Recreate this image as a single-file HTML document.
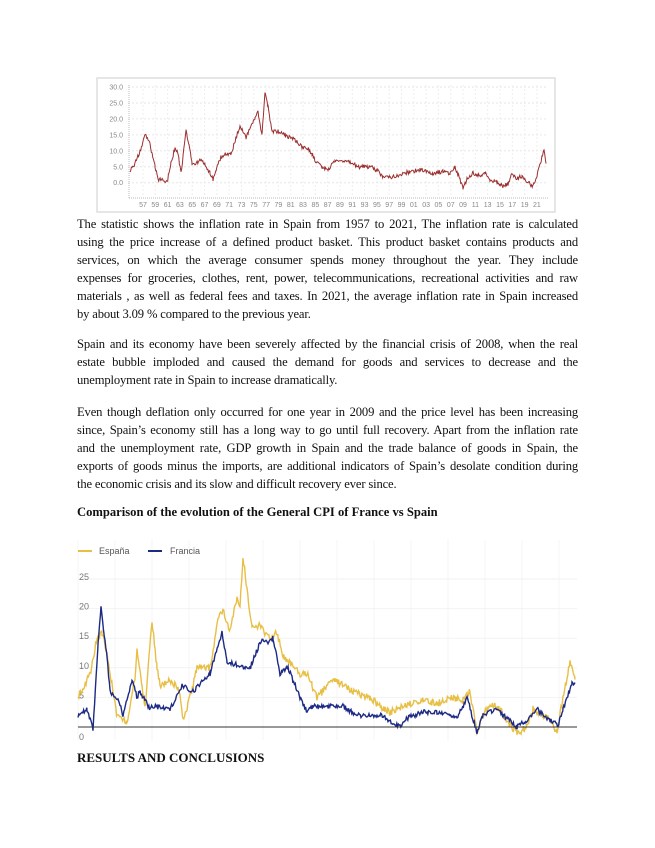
<!DOCTYPE html>
<html><head><meta charset="utf-8"><style>
body{margin:0;background:#fff;width:655px;height:848px;position:relative;overflow:hidden;font-family:"Liberation Serif",serif;}
.l{position:absolute;left:77px;width:501px;font-size:12.6px;line-height:16px;color:#111;text-align:justify;text-align-last:justify;white-space:nowrap;letter-spacing:-0.15px}
.n{text-align-last:left}
.b{position:absolute;left:77px;font-weight:bold;font-size:12.6px;color:#111}
svg{position:absolute;left:0;top:0}
</style></head><body>
<svg width="655" height="848" id="s">
<rect x="97" y="78" width="458" height="134" fill="#fff" stroke="#ddd" stroke-width="1.5"/>
<g id="g1" font-family="Liberation Sans,sans-serif" font-size="7" fill="#888"></g>
<g id="g2" font-family="Liberation Sans,sans-serif" font-size="9" fill="#555"></g>
</svg>
<div class="l" style="top:216px">The statistic shows the inflation rate in Spain from 1957 to 2021, The inflation rate is calculated</div>
<div class="l" style="top:234px">using the price increase of a defined product basket. This product basket contains products and</div>
<div class="l" style="top:252px">services, on which the average consumer spends money throughout the year. They include</div>
<div class="l" style="top:270px">expenses for groceries, clothes, rent, power, telecommunications, recreational activities and raw</div>
<div class="l" style="top:288px">materials , as well as federal fees and taxes. In 2021, the average inflation rate in Spain increased</div>
<div class="l n" style="top:306px">by about 3.09 % compared to the previous year.</div>
<div class="l" style="top:336px">Spain and its economy have been severely affected by the financial crisis of 2008, when the real</div>
<div class="l" style="top:354px">estate bubble imploded and caused the demand for goods and services to decrease and the</div>
<div class="l n" style="top:372px">unemployment rate in Spain to increase dramatically.</div>
<div class="l" style="top:404px">Even though deflation only occurred for one year in 2009 and the price level has been increasing</div>
<div class="l" style="top:422px">since, Spain’s economy still has a long way to go until full recovery. Apart from the inflation rate</div>
<div class="l" style="top:440px">and the unemployment rate, GDP growth in Spain and the trade balance of goods in Spain, the</div>
<div class="l" style="top:458px">exports of goods minus the imports, are additional indicators of Spain’s desolate condition during</div>
<div class="l n" style="top:476px">the economic crisis and its slow and difficult recovery ever since.</div>
<div class="b" style="top:505px">Comparison of the evolution of the General CPI of France vs Spain</div>
<div class="b" style="top:750px;font-size:13px">RESULTS AND CONCLUSIONS</div>
<script>
var NS="http://www.w3.org/2000/svg";
function el(p,t,a,txt){var e=document.createElementNS(NS,t);for(var k in a)e.setAttribute(k,a[k]);if(txt!==undefined)e.textContent=txt;p.appendChild(e);return e;}
var seed=1;function rnd(){seed=(seed*16807)%2147483647;return seed/2147483647-0.5;}
function series(kp,step,noise,fy){var pts=[];for(var i=0;i<kp.length-1;i++){var a=kp[i],b=kp[i+1];for(var x=a[0];x<b[0];x+=step){var t=(x-a[0])/(b[0]-a[0]);var v=a[1]+(b[1]-a[1])*t+rnd()*noise;pts.push(x.toFixed(1)+","+fy(v).toFixed(1));}}var l=kp[kp.length-1];pts.push(l[0]+","+fy(l[1]).toFixed(1));return pts.join(" ");}
// chart 1
var g1=document.getElementById("g1");
var y1=function(v){return 182.7-v*3.19;};
for(var v=0;v<=30;v+=5){var y=y1(v);el(g1,"line",{x1:128,x2:548,y1:y,y2:y,stroke:"#e6e6e6","stroke-dasharray":"2,2"});el(g1,"text",{x:123,y:y+2.5,"text-anchor":"end"},v.toFixed(1));}
el(g1,"line",{x1:129,x2:129,y1:85,y2:198,stroke:"#bbb","stroke-dasharray":"1,1"});
el(g1,"line",{x1:129,x2:548,y1:198,y2:198,stroke:"#bbb","stroke-dasharray":"1,1"});
var labs=["57","59","61","63","65","67","69","71","73","75","77","79","81","83","85","87","89","91","93","95","97","99","01","03","05","07","09","11","13","15","17","19","21"];
for(var i=0;i<labs.length;i++){var x=143+i*12.31;el(g1,"text",{x:x,y:207,"text-anchor":"middle"},labs[i]);el(g1,"line",{x1:x,x2:x,y1:85,y2:196,stroke:"#eee","stroke-dasharray":"2,2"});}
var k1=[[130,4],[135,6],[140,10],[144,14],[146,15],[150,12],[155,5],[158,1],[163,1],[167,0],[171,6],[175,11],[178,9],[181,3],[186,16],[189,12],[192,6],[195,6],[200,7],[205,6],[210,3],[213,1],[216,4],[221,8],[226,9],[231,9],[236,14],[240,18],[243,16],[246,14],[250,17],[255,20],[258,22],[262,15],[265,28],[268,24],[272,16],[278,16],[285,15],[292,14],[297,13],[302,11],[307,11],[312,9],[315,7],[322,5],[328,4],[335,7],[343,7],[352,6],[358,5],[370,5],[377,4],[383,2],[390,1.8],[400,2.5],[410,3.5],[420,4],[433,3],[443,3.5],[450,3],[455,5],[460,1],[463,-1.5],[467,1],[473,3],[482,2],[485,3],[490,1],[498,0],[503,-1],[508,-0.5],[511,2.5],[517,1.5],[522,2],[528,0],[533,-1],[537,2],[542,8],[544,10],[546,6]];
el(g1,"polyline",{points:series(k1,0.7,1.3,y1),fill:"none",stroke:"#9b2f2f","stroke-width":1});
// chart 2
var g2=document.getElementById("g2");
var y2=function(v){return 727-v*5.92;};
for(var x=78;x<580;x+=37)el(g2,"line",{x1:x,x2:x,y1:540,y2:740,stroke:"#f4f4f4"});
[5,10,15,20,25].forEach(function(v){el(g2,"line",{x1:78,x2:577,y1:y2(v),y2:y2(v),stroke:"#f2f2f2"});el(g2,"text",{x:79,y:y2(v)+1,fill:"#777"},v);});
el(g2,"text",{x:79,y:740,fill:"#777"},"0");
var ks=[[78,5],[90,9],[97,15],[102,16],[107,12],[117,2],[127,1],[135,8],[137,13],[142,7],[145,3],[152,18],[157,10],[160,7],[170,8],[180,6],[183,1],[190,5],[197,10],[210,10],[218,18],[223,20],[230,16],[237,22],[240,20],[243,29],[247,23],[252,17],[260,17],[270,15],[277,16],[283,12],[290,11],[300,9],[307,9],[312,7],[317,5],[333,8],[353,6],[370,5],[383,3],[390,2.5],[410,4],[423,4.5],[437,4],[453,5],[463,4.5],[470,6],[477,-1],[483,2],[490,4],[500,3],[507,1],[517,-1],[527,0],[533,3],[543,2],[550,1],[557,-1],[563,5],[570,11],[575,8]];
var kf=[[78,2],[87,3],[93,-0.5],[98,14],[101,20],[107,12],[110,6],[120,4],[123,2],[132,8],[137,5],[140,6],[150,3],[153,3.5],[170,3],[182,7],[193,6],[210,9],[222,16],[227,11],[237,10.5],[250,10],[262,15],[268,14],[273,15],[280,9],[288,10],[300,5],[307,2.5],[313,3.5],[330,3.5],[343,3.5],[357,2],[380,2],[400,0],[407,1.5],[423,2.5],[437,2.5],[457,1.5],[467,5],[477,-1],[483,2],[497,3],[503,2],[517,0],[530,1.5],[537,3],[547,1.5],[558,0.3],[563,3],[572,7.5],[575,7.5]];
el(g2,"polyline",{points:series(ks,0.8,1.2,y2),fill:"none",stroke:"#e8bf45","stroke-width":1.4});
el(g2,"polyline",{points:series(kf,0.8,0.8,y2),fill:"none",stroke:"#1c2a85","stroke-width":1.4});
el(g2,"line",{x1:78,x2:577,y1:727,y2:727,stroke:"#333","stroke-width":1});
el(g2,"line",{x1:78,x2:92,y1:551,y2:551,stroke:"#e8bf45","stroke-width":2});
el(g2,"text",{x:99,y:554},"España");
el(g2,"line",{x1:148,x2:162,y1:551,y2:551,stroke:"#1c2a85","stroke-width":2});
el(g2,"text",{x:170,y:554},"Francia");
</script>
</body></html>
